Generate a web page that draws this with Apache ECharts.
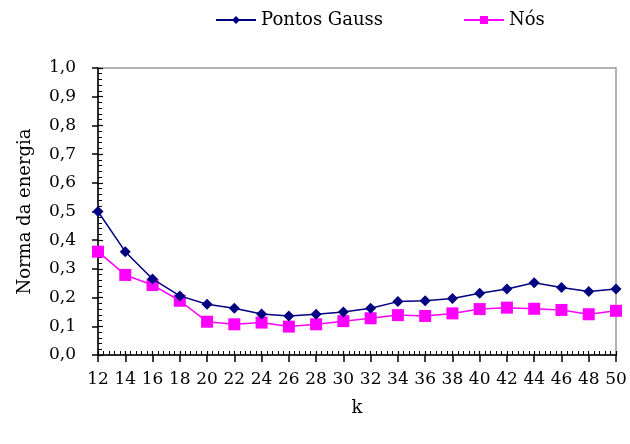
<!DOCTYPE html>
<html><head><meta charset="utf-8">
<script src="https://cdn.jsdelivr.net/npm/echarts@6/dist/echarts.min.js"></script>
<style>html,body{margin:0;padding:0;background:#fff}#c{width:630px;height:444px}</style>
</head><body><div id="c"></div>
<script>
var kValues = [12,14,16,18,20,22,24,26,28,30,32,34,36,38,40,42,44,46,48,50];
var pontosGauss = [0.50,0.36,0.265,0.206,0.177,0.163,0.143,0.136,0.142,0.150,0.163,0.186,0.189,0.197,0.215,0.230,0.252,0.235,0.221,0.230];
var nos = [0.36,0.279,0.244,0.189,0.116,0.107,0.113,0.099,0.107,0.118,0.128,0.139,0.136,0.145,0.160,0.165,0.161,0.157,0.142,0.154];
var yTicks = {min: 0, max: 1, interval: 0.1};
var xTicks = {min: 12, max: 50, interval: 2};

function pairs(vals){ return kValues.map(function(k,i){ return [k, vals[i]]; }); }
var font = 'DejaVu Serif';
var gridBox = {left: 98, right: 14, top: 68, bottom: 89};
var legendText = {fontFamily: font, fontSize: 18, color: '#000'};
var chart = echarts.init(document.getElementById('c'), null, {renderer: 'canvas'});
chart.setOption({
  animation: false,
  backgroundColor: '#fff',
  textStyle: {fontFamily: font},
  legend: [{
    top: 6, left: 210, itemWidth: 40, itemHeight: 10, itemGap: 4,
    textStyle: legendText, data: ['Pontos Gauss']
  }, {
    top: 6, left: 458, itemWidth: 40, itemHeight: 10, itemGap: 4,
    textStyle: legendText, data: ['Nós']
  }],
  grid: [
    Object.assign({show: true, borderColor: '#999', borderWidth: 1.5, backgroundColor: 'transparent'}, gridBox),
    Object.assign({show: false}, gridBox)
  ],
  xAxis: [{
    type: 'value', gridIndex: 0, min: xTicks.min, max: xTicks.max, interval: xTicks.interval,
    name: 'k', nameLocation: 'middle', nameGap: 44,
    nameTextStyle: {fontFamily: font, fontSize: 18, color: '#000'},
    axisLine: {show: true, lineStyle: {color: '#000', width: 1.5}},
    axisTick: {show: true, inside: false, length: 7, lineStyle: {color: '#000', width: 1.5}},
    axisLabel: {fontFamily: font, fontSize: 17, color: '#000', margin: 16, showMinLabel: true, showMaxLabel: true, hideOverlap: false},
    splitLine: {show: false}
  }, {
    type: 'value', gridIndex: 1, min: xTicks.min, max: xTicks.max, interval: xTicks.interval,
    axisLine: {show: false},
    axisTick: {show: true, inside: true, length: 4, lineStyle: {color: '#000', width: 1.2}},
    minorTick: {show: true, splitNumber: 5, length: 4, lineStyle: {color: '#000', width: 1}},
    axisLabel: {show: false}, splitLine: {show: false}
  }],
  yAxis: [{
    type: 'value', gridIndex: 0, min: yTicks.min, max: yTicks.max, interval: yTicks.interval,
    name: 'Norma da energia', nameLocation: 'middle', nameGap: 64,
    nameTextStyle: {fontFamily: font, fontSize: 18, color: '#000'},
    axisLine: {show: true, lineStyle: {color: '#000', width: 1.5}},
    axisTick: {show: true, inside: false, length: 6, lineStyle: {color: '#000', width: 1.5}},
    axisLabel: {fontFamily: font, fontSize: 17, color: '#000', margin: 22,
      formatter: function(v){ return v.toFixed(1).replace('.', ','); }},
    splitLine: {show: false}
  }, {
    type: 'value', gridIndex: 1, min: yTicks.min, max: yTicks.max, interval: yTicks.interval,
    axisLine: {show: false},
    axisTick: {show: true, inside: true, length: 5, lineStyle: {color: '#000', width: 1.2}},
    minorTick: {show: true, splitNumber: 5, length: 4, lineStyle: {color: '#000', width: 1}},
    axisLabel: {show: false}, splitLine: {show: false}
  }],
  series: [{
    name: 'Pontos Gauss', type: 'line', xAxisIndex: 0, yAxisIndex: 0,
    data: pairs(pontosGauss), symbol: 'diamond', symbolSize: 11,
    itemStyle: {color: '#000080'}, lineStyle: {color: '#000080', width: 1.5}, z: 3
  }, {
    name: 'Nós', type: 'line', xAxisIndex: 0, yAxisIndex: 0,
    data: pairs(nos), symbol: 'rect', symbolSize: 12,
    itemStyle: {color: '#FF00FF'}, lineStyle: {color: '#FF00FF', width: 1.5}, z: 2
  }]
});
</script></body></html>
